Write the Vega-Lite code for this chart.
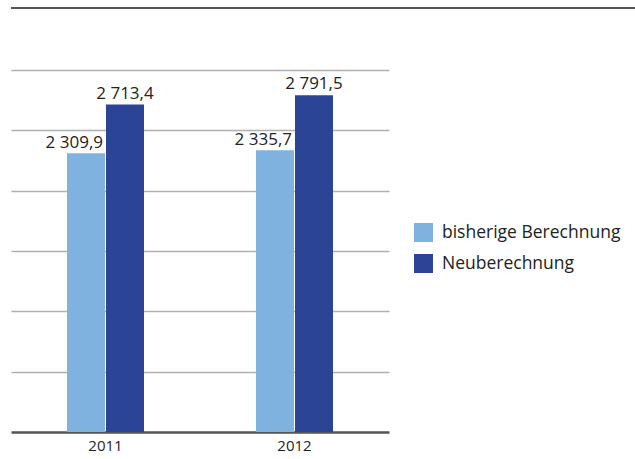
{
  "$schema": "https://vega.github.io/schema/vega-lite/v6.json",
  "padding": {"left": 10, "top": 7, "right": 0, "bottom": 0},
  "background": "white",
  "config": {
    "view": {"stroke": null},
    "font": "Open Sans",
    "locale": {"number": {"decimal": ",", "thousands": " ", "grouping": [3], "currency": ["", " €"]}}
  },
  "datasets": {
    "bars": [
      {"year": "2011", "series": "bisherige Berechnung", "value": 2309.9},
      {"year": "2011", "series": "Neuberechnung", "value": 2713.4},
      {"year": "2012", "series": "bisherige Berechnung", "value": 2335.7},
      {"year": "2012", "series": "Neuberechnung", "value": 2791.5}
    ],
    "top": [{"v": 0}]
  },
  "spacing": 61,
  "vconcat": [
    {
      "width": 625,
      "height": 1,
      "data": {"name": "top"},
      "mark": {"type": "rule", "color": "#555555", "strokeWidth": 2},
      "encoding": {
        "y": {"field": "v", "type": "quantitative", "scale": {"domain": [0, 1]}, "axis": null}
      }
    },
    {
      "width": 378,
      "height": 362,
      "data": {"name": "bars"},
      "encoding": {
        "x": {"field": "year", "type": "nominal", "scale": {"paddingInner": 0.5926, "paddingOuter": 0.2963},
              "axis": {"title": null, "labelAngle": 0, "ticks": false, "labelPadding": 6, "labelFontSize": 15, "labelColor": "#222222", "domainColor": "#555555", "domainWidth": 2.5, "grid": false}},
        "xOffset": {"field": "series", "type": "nominal", "sort": ["bisherige Berechnung", "Neuberechnung"], "scale": {"paddingInner": 0.0256, "paddingOuter": 0}},
        "y": {"field": "value", "type": "quantitative", "scale": {"domain": [0, 3000], "nice": false},
              "axis": {"title": null, "labels": false, "ticks": false, "domain": false, "values": [500, 1000, 1500, 2000, 2500, 3000], "gridColor": "#b0b0b0", "gridWidth": 1.5}}
      },
      "layer": [
        {
          "mark": {"type": "bar"},
          "encoding": {
            "color": {"field": "series", "type": "nominal", "sort": ["bisherige Berechnung", "Neuberechnung"],
                      "scale": {"range": ["#80b2e0", "#2b4496"]},
                      "legend": {"title": null, "orient": "none", "legendX": 403, "legendY": 216, "symbolType": "square", "symbolSize": 361, "symbolStrokeWidth": 0, "labelFontSize": 17.5, "labelLimit": 400, "labelColor": "#222222", "rowPadding": 12, "labelOffset": 9}}
          }
        },
        {
          "transform": [{"filter": "datum.series == 'bisherige Berechnung'"}],
          "mark": {"type": "text", "align": "right", "baseline": "alphabetic", "dx": 17, "dy": -5, "fontSize": 17, "color": "#222222"},
          "encoding": {"text": {"field": "value", "type": "quantitative", "format": ",.1f"}}
        },
        {
          "transform": [{"filter": "datum.series == 'Neuberechnung'"}],
          "mark": {"type": "text", "align": "center", "baseline": "alphabetic", "dy": -6, "fontSize": 17, "color": "#222222"},
          "encoding": {"text": {"field": "value", "type": "quantitative", "format": ",.1f"}}
        }
      ]
    }
  ]
}
